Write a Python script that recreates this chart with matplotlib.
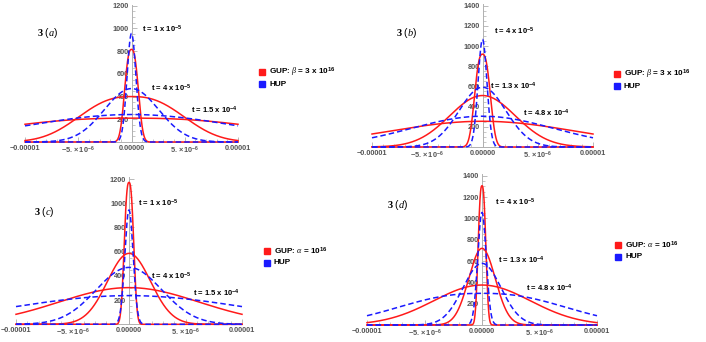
import numpy as np
import matplotlib
matplotlib.use("Agg")
import matplotlib.pyplot as plt
from matplotlib.lines import Line2D

plt.rcParams.update({
    'font.family': 'Liberation Sans',
    'mathtext.fontset': 'custom',
    'mathtext.rm': 'Liberation Sans',
    'mathtext.bf': 'Liberation Sans:bold',
    'mathtext.it': 'Liberation Serif:italic',
})

# ---- data ----
# x ticks shared by all panels
x_ticks = [-1e-5, -5e-6, 0.0, 5e-6, 1e-5]
x_ticklabels = ['\u22120.00001', r'$\mathbf{-5.\times10^{-6}}$', '0.00000',
                r'$\mathbf{5.\times10^{-6}}$', '0.00001']

# curve profiles: peak height, half width (m), flatness exponent, narrow -> wide
gup_a_peak = [815, 400, 210]
gup_a_width = [0.80e-6, 6.1e-6, 16.6e-6]
gup_a_shape = [2.6, 2.5, 2.4]
hup_a_peak = [955, 470, 242]
hup_a_width = [0.59e-6, 3.6e-6, 13.7e-6]
hup_a_shape = [2.0, 2.0, 2.0]

gup_b_peak = [920, 510, 255]
gup_b_width = [0.88e-6, 4.2e-6, 12.1e-6]
gup_b_shape = [2.6, 2.0, 2.0]
hup_b_peak = [1066, 592, 305]
hup_b_width = [0.57e-6, 3.0e-6, 9.1e-6]
hup_b_shape = [2.0, 2.0, 2.0]

gup_c_peak = [1172, 586, 303]
gup_c_width = [0.525e-6, 2.69e-6, 8.77e-6]
gup_c_shape = [2.6, 2.0, 2.0]
hup_c_peak = [944, 470, 237]
hup_c_width = [0.52e-6, 4.1e-6, 14.4e-6]
hup_c_shape = [2.0, 2.0, 2.0]

gup_d_peak = [1306, 719, 375]
gup_d_width = [0.42e-6, 1.63e-6, 5.94e-6]
gup_d_shape = [2.6, 2.0, 2.0]
hup_d_peak = [1056, 578, 297]
hup_d_width = [0.52e-6, 2.33e-6, 9.17e-6]
hup_d_shape = [2.0, 2.0, 2.37]

times_ac = [r'1 x 10$^{\mathbf{-5}}$', r'4 x 10$^{\mathbf{-5}}$', r'1.5 x 10$^{\mathbf{-4}}$']
times_bd = [r'4 x 10$^{\mathbf{-5}}$', r'1.3 x 10$^{\mathbf{-4}}$', r'4.8 x 10$^{\mathbf{-4}}$']
panel_names = [r'3 $\mathit{(a)}$', r'3 $\mathit{(b)}$', r'3 $\mathit{(c)}$', r'3 $\mathit{(d)}$']
gup_labels = [r'GUP: $\beta$ = 3 x 10$^{\mathbf{16}}$', r'GUP: $\beta$ = 3 x 10$^{\mathbf{16}}$',
              r'GUP: $\alpha$ = 10$^{\mathbf{16}}$', r'GUP: $\alpha$ = 10$^{\mathbf{16}}$']
hup_label = 'HUP'

# ---- layout (pixels) ----
W, H = 706, 342
RED = '#ff1a1a'
BLUE = '#1a1aff'
AXC = '#b0b0b0'
TXC = '#555555'

panels = [
    dict(box=(25, 238, 142, 4.5), ymax=1210, yt=range(200, 1201, 200),
         gup=(gup_a_peak, gup_a_width, gup_a_shape), hup=(hup_a_peak, hup_a_width, hup_a_shape),
         times=times_ac, tpos=[(1.0e-6, 995), (1.83e-6, 475), (5.59e-6, 282)],
         lab=(-8.9e-6, 960), leg=(262, 72)),
    dict(box=(372, 593, 147, 3.7), ymax=1420, yt=range(200, 1401, 200),
         gup=(gup_b_peak, gup_b_width, gup_b_shape), hup=(hup_b_peak, hup_b_width, hup_b_shape),
         times=times_bd, tpos=[(1.04e-6, 1150), (0.68e-6, 605), (3.67e-6, 337)],
         lab=(-7.8e-6, 1130), leg=(617, 74)),
    dict(box=(16, 242, 324.3, 177.2), ymax=1215, yt=range(200, 1201, 200),
         gup=(gup_c_peak, gup_c_width, gup_c_shape), hup=(hup_c_peak, hup_c_width, hup_c_shape),
         times=times_ac, tpos=[(0.8e-6, 1002), (1.95e-6, 399), (5.66e-6, 258)],
         lab=(-8.4e-6, 927), leg=(267, 251)),
    dict(box=(367, 597, 325, 173.6), ymax=1420, yt=range(200, 1401, 200),
         gup=(gup_d_peak, gup_d_width, gup_d_shape), hup=(hup_d_peak, hup_d_width, hup_d_shape),
         times=times_bd, tpos=[(1.09e-6, 1154), (1.35e-6, 610), (3.8e-6, 347)],
         lab=(-8.3e-6, 1126), leg=(618, 245)),
]

x = np.linspace(-1e-5, 1e-5, 1200)


def profile(peak, width, shape):
    return peak * np.exp(-(np.abs(x) / width) ** shape)


fig = plt.figure(figsize=(W / 100, H / 100), dpi=100)

for i, p in enumerate(panels):
    left, right, zero_y, top_y = p['box']
    ax = fig.add_axes([left / W, (H - zero_y) / H, (right - left) / W, (zero_y - top_y) / H])
    ax.set_xlim(-1e-5, 1e-5)
    ax.set_ylim(0, p['ymax'])

    for pk, wd, sh in zip(*p['gup']):
        ax.plot(x, profile(pk, wd, sh), color=RED, lw=1.1, clip_on=False, zorder=3)
    for pk, wd, sh in zip(*p['hup']):
        ax.plot(x, profile(pk, wd, sh), color=BLUE, lw=1.1, ls=(0, (3.6, 2.0)),
                clip_on=False, zorder=4)

    # Mathematica-like crossing axes
    ax.spines['left'].set_position(('data', 0))
    ax.spines['bottom'].set_position(('data', 0))
    ax.spines['top'].set_visible(False)
    ax.spines['right'].set_visible(False)
    for s in ('left', 'bottom'):
        ax.spines[s].set_color(AXC)
        ax.spines[s].set_linewidth(0.7)
    ax.patch.set_visible(False)

    ax.set_xticks(x_ticks)
    ax.set_xticklabels(x_ticklabels)
    ax.set_xticks(np.linspace(-1e-5, 1e-5, 21), minor=True)
    ax.set_yticks(list(p['yt']))
    ax.set_yticklabels([str(v) for v in p['yt']])
    ax.set_yticks(np.arange(50, p['ymax'], 50), minor=True)
    ax.tick_params(which='both', direction='in', color=AXC, labelcolor=TXC,
                   labelsize=5.3, pad=2)
    ax.tick_params(which='major', length=3.5, width=0.6)
    ax.tick_params(which='minor', length=2, width=0.5)
    for t in ax.get_xticklabels() + ax.get_yticklabels():
        t.set_fontweight('bold')

    for (tx, ty), lbl in zip(p['tpos'], p['times']):
        ax.text(tx, ty, 't = ' + lbl, fontsize=5.5, fontweight='bold', va='center',
                ha='left', zorder=6)
    ax.text(p['lab'][0], p['lab'][1], panel_names[i], fontsize=7.5, fontweight='bold',
            family='Liberation Serif', va='center', ha='left')

    # legend drawn by hand so the squares sit where the reference has them
    lx, ly = p['leg']
    for k, (c, lbl) in enumerate([(RED, gup_labels[i]), (BLUE, hup_label)]):
        yy = ly + 12 * k
        fig.add_artist(Line2D([lx / W], [1 - yy / H], transform=fig.transFigure,
                              marker='s', markersize=5, color=c, ls='none'))
        fig.text((lx + 7) / W, 1 - yy / H, lbl, fontsize=5.9, fontweight='bold',
                 va='center', ha='left')

fig.savefig('out.png', dpi=100)
